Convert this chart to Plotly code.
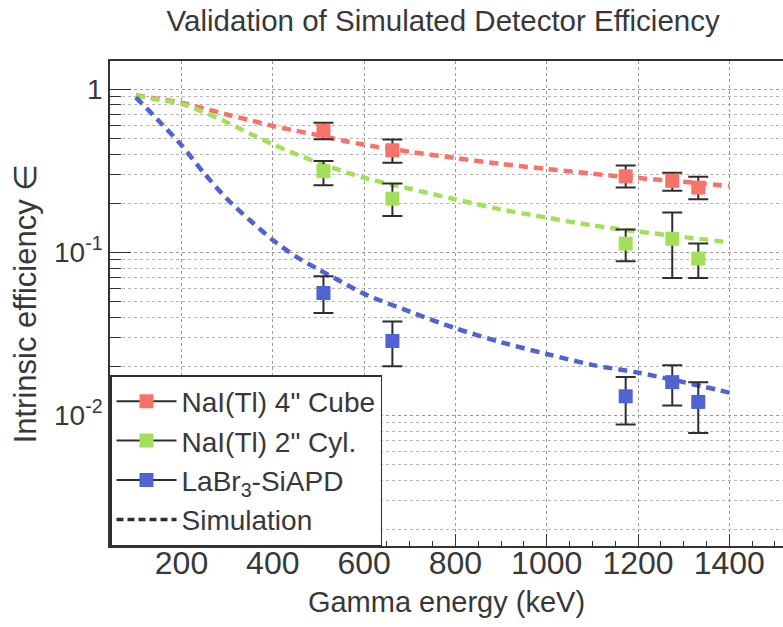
import plotly.graph_objects as go

# Measured intrinsic efficiencies (value, upper bound, lower bound) per gamma line
energy_keV = [511, 662, 1173, 1275, 1332]

nai4_eff = [0.555, 0.422, 0.292, 0.274, 0.249]
nai4_hi = [0.621, 0.491, 0.340, 0.307, 0.290]
nai4_lo = [0.493, 0.353, 0.249, 0.238, 0.211]

nai2_eff = [0.314, 0.213, 0.113, 0.121, 0.0915]
nai2_hi = [0.363, 0.264, 0.138, 0.175, 0.113]
nai2_lo = [0.257, 0.167, 0.088, 0.0696, 0.0696]

labr_eff = [0.0563, 0.0286, 0.0131, 0.0160, 0.0121]
labr_hi = [0.0713, 0.0377, 0.0172, 0.0203, 0.0160]
labr_lo = [0.0424, 0.0200, 0.0088, 0.0115, 0.0078]

# Simulated efficiency curves
sim_energy = [100, 150, 200, 250, 300, 350, 400, 450, 500, 550, 600,
              700, 800, 900, 1000, 1100, 1200, 1300, 1400]
sim_nai4 = [0.916, 0.87, 0.824, 0.76, 0.698, 0.645, 0.594, 0.556, 0.521, 0.486, 0.456,
            0.413, 0.378, 0.348, 0.324, 0.303, 0.285, 0.270, 0.255]
sim_nai2 = [0.91, 0.86, 0.813, 0.72, 0.624, 0.533, 0.459, 0.400, 0.354, 0.316, 0.286,
            0.245, 0.211, 0.183, 0.163, 0.146, 0.134, 0.124, 0.115]
sim_labr = [0.89, 0.64, 0.453, 0.304, 0.212, 0.157, 0.119, 0.0944, 0.0785, 0.066, 0.0556,
            0.0433, 0.0342, 0.0281, 0.0238, 0.0204, 0.0183, 0.0160, 0.0138]

names = ["NaI(Tl) 4\" Cube", "NaI(Tl) 2\" Cyl.", "LaBr<sub>3</sub>-SiAPD"]
colors = ["#f7736a", "#a3e05a", "#4f63d2"]

TEXT = "#383838"
FONT = "Liberation Sans, Arial, sans-serif"

fig = go.Figure()

series = [
    (sim_nai4, nai4_eff, nai4_hi, nai4_lo),
    (sim_nai2, nai2_eff, nai2_hi, nai2_lo),
    (sim_labr, labr_eff, labr_hi, labr_lo),
]

# simulation curves (dashed)
for (sim, _, _, _), col in zip(series, colors):
    fig.add_trace(go.Scatter(
        x=sim_energy, y=sim, mode="lines", showlegend=False, hoverinfo="skip",
        line=dict(color=col, width=4.5, dash="9px,6px", shape="spline", smoothing=0.8),
    ))

# measured points with asymmetric error bars
for (_, eff, hi, lo), col in zip(series, colors):
    fig.add_trace(go.Scatter(
        x=energy_keV, y=eff, mode="markers", showlegend=False,
        marker=dict(symbol="square", size=14, color=col),
        error_y=dict(type="data", symmetric=False,
                     array=[h - v for h, v in zip(hi, eff)],
                     arrayminus=[v - l for v, l in zip(eff, lo)],
                     color="#2e2e2e", thickness=2, width=10),
    ))

# legend entries
for name, col in zip(names, colors):
    fig.add_trace(go.Scatter(
        x=[None], y=[None], mode="lines+markers", name=name,
        line=dict(color="#2e2e2e", width=2),
        marker=dict(symbol="square", size=14, color=col),
        legendgroup=name,
    ))
fig.add_trace(go.Scatter(
    x=[None], y=[None], mode="lines", name="Simulation",
    line=dict(color="#2e2e2e", width=3.5, dash="7px,4px"),
    legendgroup="sim",
))

minor_y = [m * 10.0 ** k for k in (-3, -2, -1, 0) for m in range(2, 10)]

fig.update_layout(
    width=783, height=627,
    margin=dict(l=110, r=0, t=61, b=81),
    paper_bgcolor="white", plot_bgcolor="white",
    font=dict(family=FONT, size=28, color=TEXT),
    title=dict(text="Validation of Simulated Detector Efficiency",
               x=0.566, xref="container", xanchor="center",
               y=1 - 21 / 627, yref="container", yanchor="middle",
               font=dict(size=29.5, color=TEXT)),
    showlegend=True,
    legend=dict(x=0, y=0, xanchor="left", yanchor="bottom",
                bgcolor="white", bordercolor="#2e2e2e", borderwidth=1.5,
                font=dict(size=28, color=TEXT), itemwidth=60,
                tracegroupgap=7, traceorder="normal"),
    xaxis=dict(
        range=[43.4, 1517.6],
        title=dict(text="Gamma energy (keV)", standoff=12, font=dict(size=29)),
        tickfont=dict(size=32), ticklabelstandoff=-12,
        tick0=0, dtick=200, ticks="inside", ticklen=12, tickwidth=1.2, tickcolor="#333",
        showline=True, linecolor="#333", linewidth=1.5, mirror=True,
        showgrid=True, gridcolor="#9a9a9a", griddash="dot", gridwidth=1,
        minor=dict(dtick=50, ticks="inside", ticklen=5, tickcolor="#333", showgrid=False),
        zeroline=False,
    ),
    yaxis=dict(
        type="log", range=[-2.80, 0.172],
        title=dict(text="Intrinsic efficiency ∈", standoff=8, font=dict(size=31)),
        tickvals=[0.01, 0.1, 1], ticktext=["10<sup>-2</sup>", "10<sup>-1</sup>", "1"],
        tickfont=dict(size=28),
        ticks="inside", ticklen=21, tickwidth=1.2, tickcolor="#333",
        showline=True, linecolor="#333", linewidth=1.5, mirror=False,
        showgrid=True, gridcolor="#9a9a9a", griddash="dot", gridwidth=1,
        minor=dict(tickvals=minor_y, ticks="inside", ticklen=11, tickcolor="#333",
                   showgrid=True, gridcolor="#b5b5b5", griddash="dot", gridwidth=1),
        zeroline=False,
    ),
)

fig.write_html("out.html")
